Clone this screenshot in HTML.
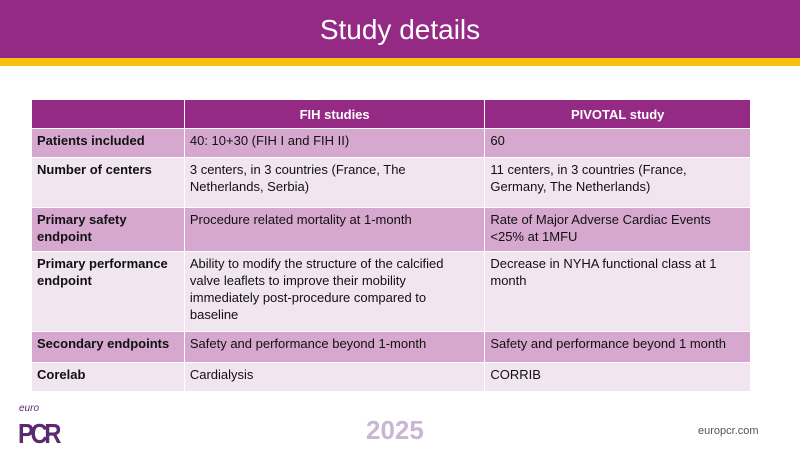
<!DOCTYPE html>
<html><head><meta charset="utf-8"><style>
body{margin:0;width:800px;height:450px;overflow:hidden;background:#fff;font-family:"Liberation Sans",sans-serif;position:relative}
.hdr{position:absolute;left:0;top:0;width:800px;height:58px;background:#952a85;color:#fff;font-size:28px;text-align:center;line-height:60px}
.bar{position:absolute;left:0;top:58px;width:800px;height:8px;background:#f5c30f}
table{position:absolute;left:31px;top:99px;width:720px;border-collapse:collapse;font-size:13px;color:#111}
td,th{border:1px solid #fff;padding:3px 5px;vertical-align:top;line-height:17px;text-align:left}
th{background:#952a85;color:#fff;text-align:center;height:22px;vertical-align:middle}
tr.d td{background:#d6a8cf}tr.l td{background:#f1e5f0}
td:first-child{font-weight:bold}
.logo{position:absolute;left:18px;top:418px;font-size:28px;font-weight:bold;color:#5b2a6e;letter-spacing:-4px;transform:scaleX(0.85);transform-origin:left}
.euro{position:absolute;left:19px;top:403px;font-size:10px;color:#5b2a6e;font-style:italic}
.yr{position:absolute;left:366px;top:415px;font-size:26px;color:#c9b6d4;font-weight:bold}
.url{position:absolute;left:698px;top:425px;font-size:11px;color:#555}
</style></head><body>
<div class="hdr">Study details</div>
<div class="bar"></div>
<table>
<colgroup><col style="width:153px"><col style="width:301px"><col style="width:266px"></colgroup>
<tr><th></th><th>FIH studies</th><th>PIVOTAL study</th></tr>
<tr class="d" style="height:29px"><td>Patients included</td><td>40: 10+30 (FIH I and FIH II)</td><td>60</td></tr>
<tr class="l" style="height:50px"><td>Number of centers</td><td>3 centers, in 3 countries (France, The<br>Netherlands, Serbia)</td><td>11 centers, in 3 countries (France,<br>Germany, The Netherlands)</td></tr>
<tr class="d" style="height:44px"><td>Primary safety<br>endpoint</td><td>Procedure related mortality at 1-month</td><td>Rate of Major Adverse Cardiac Events<br>&lt;25% at 1MFU</td></tr>
<tr class="l" style="height:80px"><td>Primary performance<br>endpoint</td><td>Ability to modify the structure of the calcified<br>valve leaflets to improve their mobility<br>immediately post-procedure compared to<br>baseline</td><td>Decrease in NYHA functional class at 1<br>month</td></tr>
<tr class="d" style="height:31px"><td>Secondary endpoints</td><td>Safety and performance beyond 1-month</td><td>Safety and performance beyond 1 month</td></tr>
<tr class="l" style="height:29px"><td>Corelab</td><td>Cardialysis</td><td>CORRIB</td></tr>
</table>
<div class="euro">euro</div>
<div class="logo">PCR</div>
<div class="yr">2025</div>
<div class="url">europcr.com</div>
</body></html>
